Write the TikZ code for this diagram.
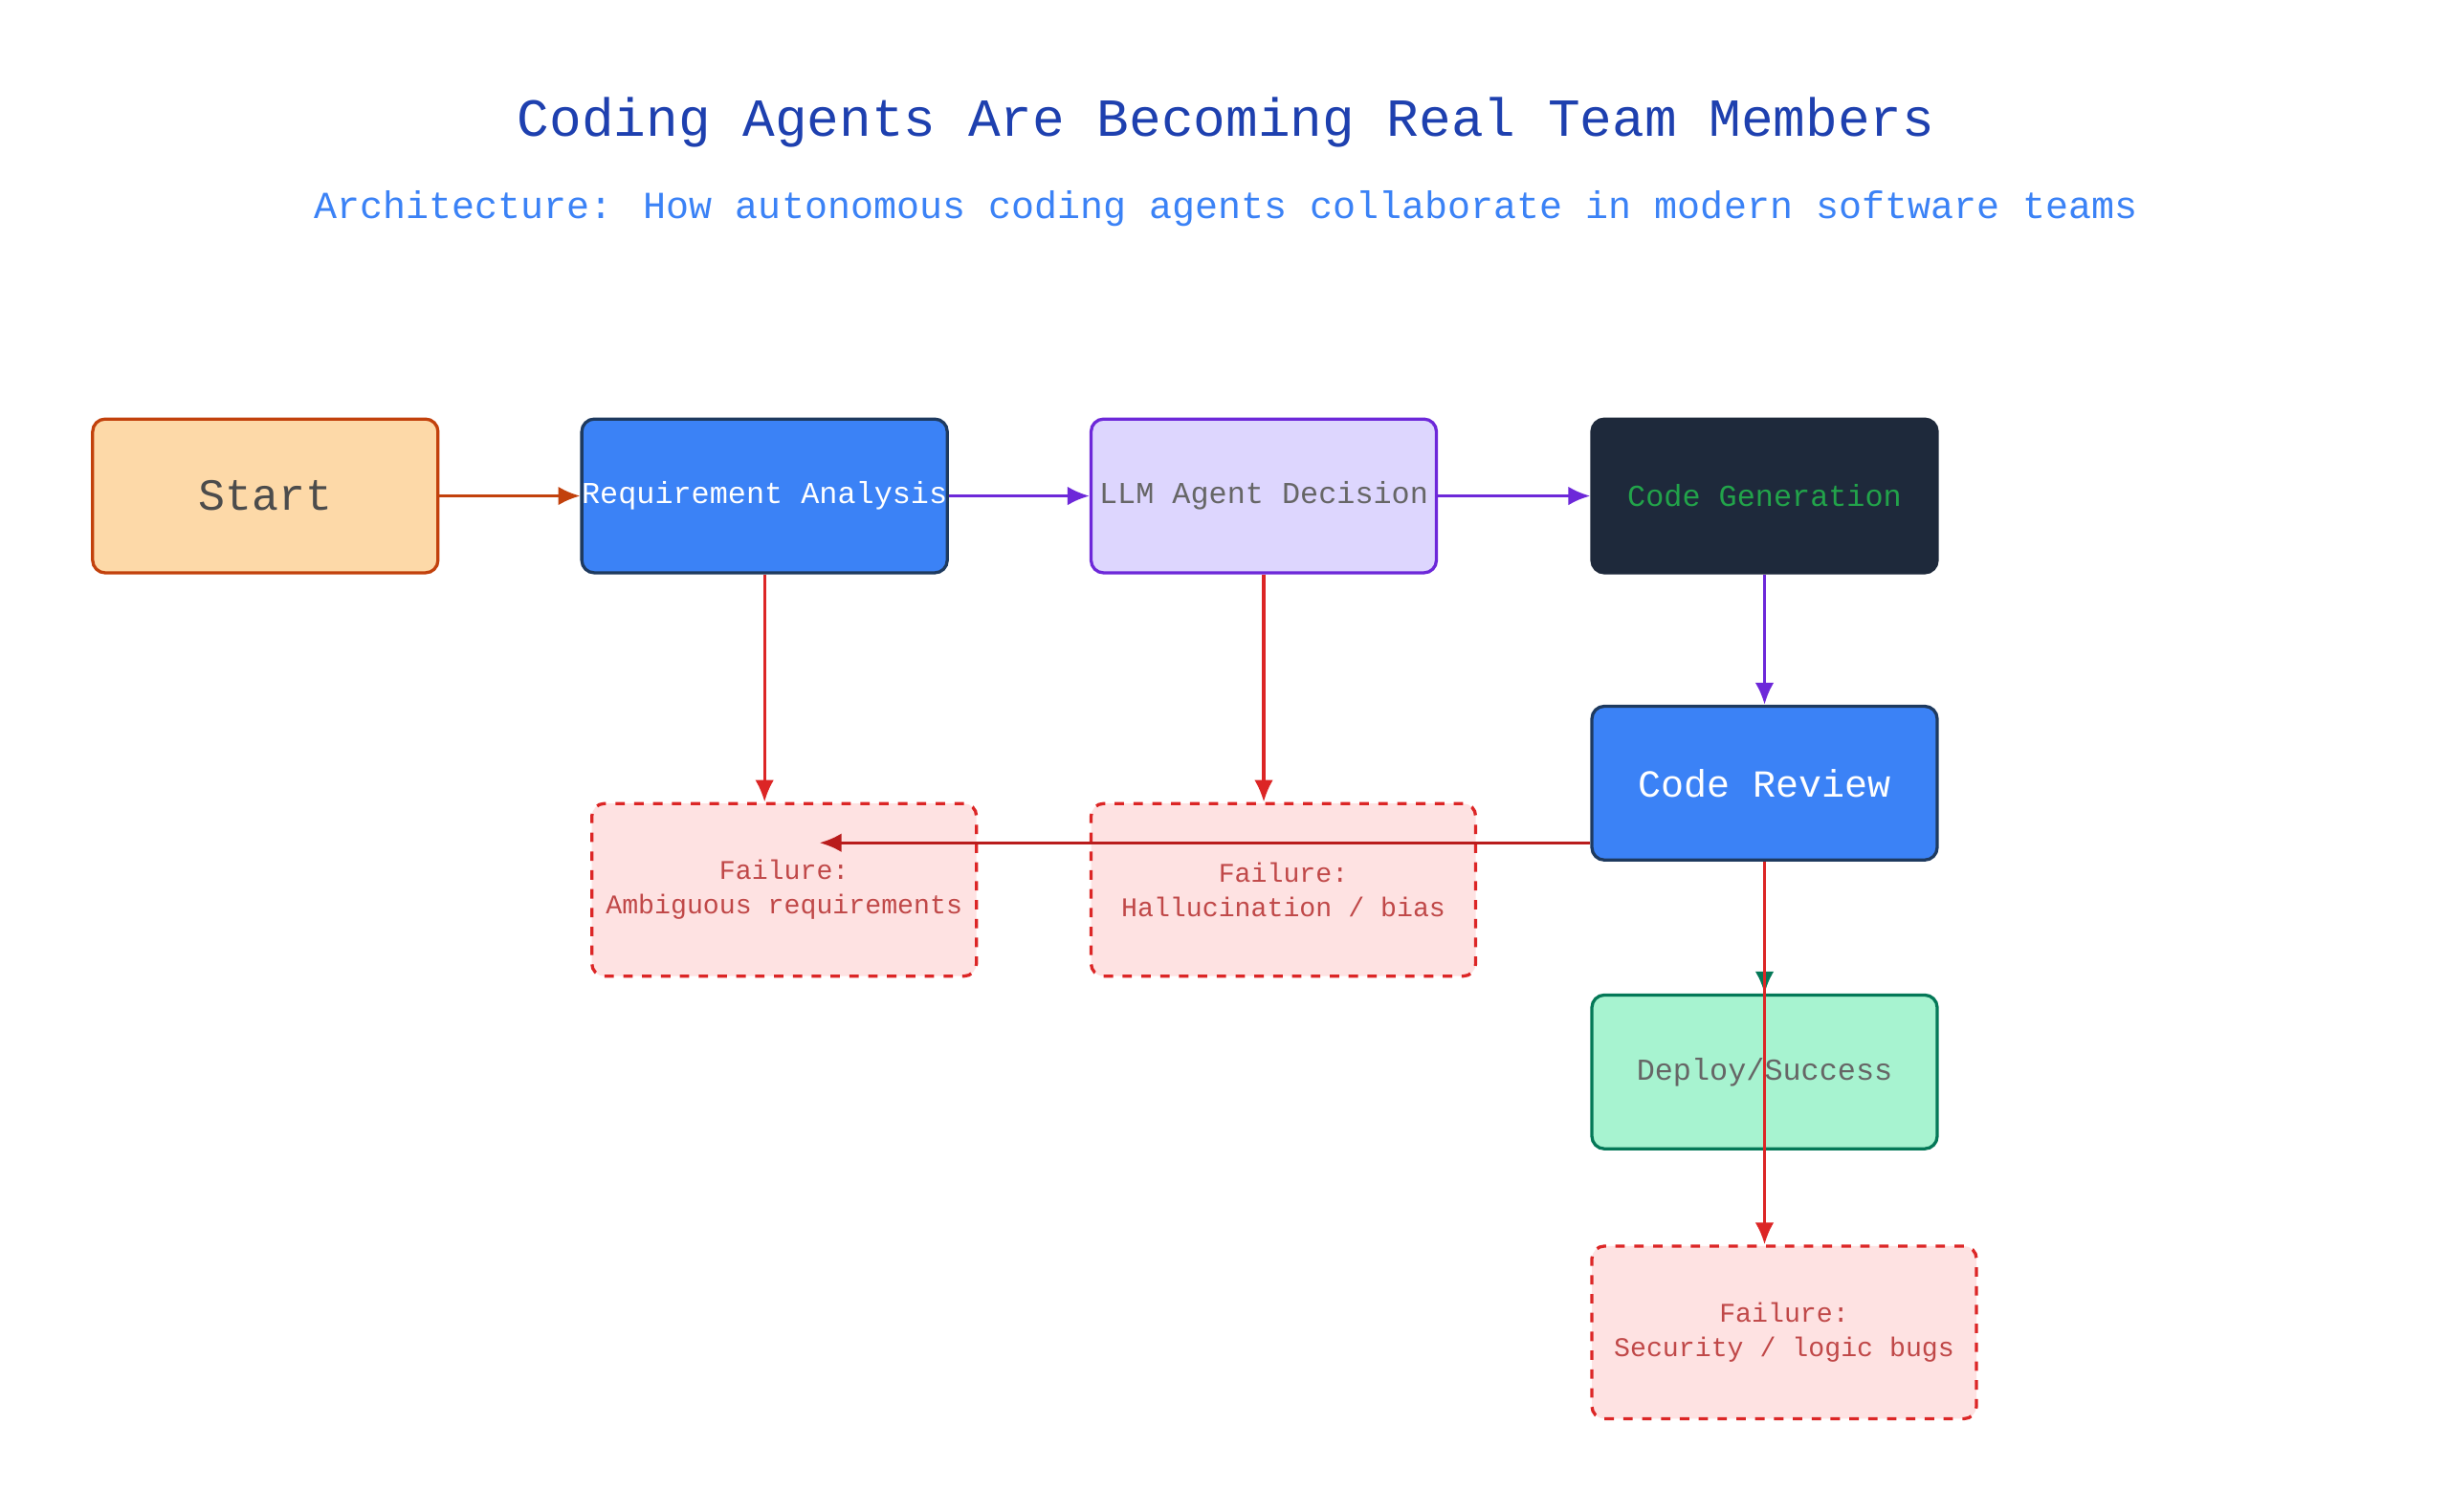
\documentclass[tikz,border=0pt]{standalone}
\usepackage{fontspec}
\setmainfont{Liberation Mono}
\usetikzlibrary{arrows.meta}
\definecolor{tblue}{HTML}{1E40AF}
\definecolor{sblue}{HTML}{3B82F6}
\definecolor{bdark}{HTML}{1E3A5F}
\definecolor{sorange}{HTML}{FDD9A8}
\definecolor{borange}{HTML}{C2410C}
\definecolor{lpurple}{HTML}{DDD6FE}
\definecolor{bpurple}{HTML}{6D28D9}
\definecolor{slate}{HTML}{1E293B}
\definecolor{ggreen}{HTML}{22A34A}
\definecolor{lgreen}{HTML}{A7F3D0}
\definecolor{bgreen}{HTML}{047857}
\definecolor{lred}{HTML}{FEE2E2}
\definecolor{bred}{HTML}{DC2626}
\definecolor{dred}{HTML}{B91C1C}
\definecolor{tred}{HTML}{C04848}
\begin{document}
\begin{tikzpicture}[x=0.5pt,y=-0.5pt,
  box/.style={draw,line width=1pt,rounded corners=4pt,minimum width=110pt,minimum height=49pt,inner sep=0pt,align=center,font=\fontsize{9.7}{11}\selectfont},
  failbox/.style={draw=bred,fill=lred,dashed,line width=1pt,rounded corners=4pt,minimum width=122.5pt,minimum height=55pt,inner sep=0pt,align=center,text=tred,font=\fontsize{8.6}{11}\selectfont},
  arr/.style={line width=1pt,-{Latex[length=7pt,width=6pt]}}]
\useasboundingbox[fill=white] (0,0) rectangle (1560,963);
\node[text=tblue,font=\fontsize{17.1}{20}\selectfont] (title) at (781,78) {Coding Agents Are Becoming Real Team Members};
\node[text=sblue,font=\fontsize{12.2}{14}\selectfont] (sub) at (781,133) {Architecture: How autonomous coding agents collaborate in modern software teams};
\node[box,draw=borange,fill=sorange,text=black!70,font=\fontsize{14.2}{16}\selectfont] (start) at (169,316) {Start};
\node[box,draw=bdark,fill=sblue,text=white] (req) at (487,316) {Requirement Analysis};
\node[box,draw=bpurple,fill=lpurple,text=black!60] (llm) at (805,316) {LLM Agent Decision};
\node[box,draw=slate,fill=slate,text=ggreen] (gen) at (1124,316) {Code Generation};
\node[box,draw=bdark,fill=sblue,text=white,font=\fontsize{12.2}{14}\selectfont] (rev) at (1124,499) {Code Review};
\node[box,draw=bgreen,fill=lgreen,text=black!60] (dep) at (1124,683) {Deploy/Success};
\node[failbox] (f1) at (499.5,567) {Failure:\\Ambiguous requirements};
\node[failbox] (f2) at (817.5,567) {Failure:\\Hallucination / bias};
\node[failbox] (f3) at (1136.5,849) {Failure:\\Security / logic bugs};
\draw[arr,borange] (start) -- (req);
\draw[arr,bpurple] (req) -- (llm);
\draw[arr,bpurple] (llm) -- (gen);
\draw[arr,bpurple] (gen) -- (rev);
\draw[arr,bred] (req.south) -- (req.south |- f1.north);
\draw[arr,bred] (llm.south) -- (llm.south |- f2.north);
\coordinate (f1e) at (522,537);
\draw[arr,dred] (rev.west |- f1e) -- (f1e);
\draw[arr,bgreen] (rev) -- (dep);
\draw[arr,bred] (rev.south) -- (rev.south |- f3.north);
\end{tikzpicture}
\end{document}
